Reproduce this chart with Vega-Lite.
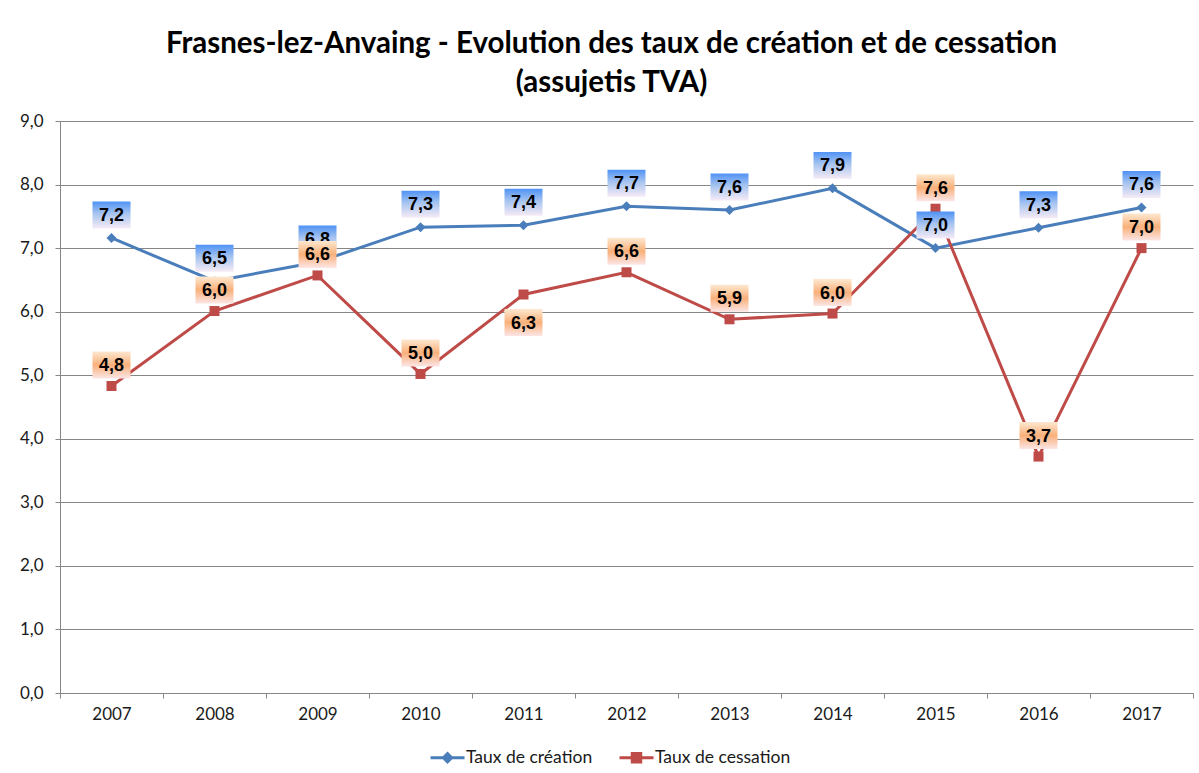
{
  "$schema": "https://vega.github.io/schema/vega-lite/v6.json",
  "width": 1133,
  "height": 572,
  "padding": {"left": 19, "right": 7, "top": 28, "bottom": 5},
  "background": "white",
  "title": {
    "text": ["Frasnes-lez-Anvaing - Evolution des taux de création et de cessation", "(assujetis TVA)"],
    "font": "Lato",
    "fontSize": 29.5,
    "fontWeight": "bold",
    "lineHeight": 39,
    "color": "#000000",
    "anchor": "middle",
    "offset": 14,
    "dx": -15
  },
  "data": {
    "values": [
      {"year": "2007", "series": "Taux de création", "value": 7.16},
      {"year": "2008", "series": "Taux de création", "value": 6.48},
      {"year": "2009", "series": "Taux de création", "value": 6.78},
      {"year": "2010", "series": "Taux de création", "value": 7.33},
      {"year": "2011", "series": "Taux de création", "value": 7.36},
      {"year": "2012", "series": "Taux de création", "value": 7.66},
      {"year": "2013", "series": "Taux de création", "value": 7.6},
      {"year": "2014", "series": "Taux de création", "value": 7.94},
      {"year": "2015", "series": "Taux de création", "value": 7.0},
      {"year": "2016", "series": "Taux de création", "value": 7.32},
      {"year": "2017", "series": "Taux de création", "value": 7.64},
      {"year": "2007", "series": "Taux de cessation", "value": 4.83},
      {"year": "2008", "series": "Taux de cessation", "value": 6.01},
      {"year": "2009", "series": "Taux de cessation", "value": 6.57},
      {"year": "2010", "series": "Taux de cessation", "value": 5.02},
      {"year": "2011", "series": "Taux de cessation", "value": 6.27},
      {"year": "2012", "series": "Taux de cessation", "value": 6.62},
      {"year": "2013", "series": "Taux de cessation", "value": 5.88},
      {"year": "2014", "series": "Taux de cessation", "value": 5.97},
      {"year": "2015", "series": "Taux de cessation", "value": 7.62},
      {"year": "2016", "series": "Taux de cessation", "value": 3.72},
      {"year": "2017", "series": "Taux de cessation", "value": 7.0}
    ]
  },
  "encoding": {
    "x": {
      "field": "year",
      "type": "ordinal",
      "scale": {"type": "band", "paddingInner": 0, "paddingOuter": 0},
      "axis": {
        "title": null,
        "labelAngle": 0,
        "tickBand": "extent",
        "tickSize": 5,
        "labelPadding": 8,
        "grid": false,
        "domainColor": "#868686",
        "tickColor": "#868686",
        "labelFont": "Lato",
        "labelFontSize": 17,
        "labelColor": "#1a1a1a"
      }
    },
    "y": {
      "field": "value",
      "type": "quantitative",
      "scale": {"domain": [0, 9], "nice": false, "zero": true},
      "axis": {
        "title": null,
        "values": [0, 1, 2, 3, 4, 5, 6, 7, 8, 9],
        "format": ".1f",
        "grid": true,
        "gridColor": "#868686",
        "gridWidth": 1,
        "domainColor": "#868686",
        "tickColor": "#868686",
        "tickSize": 5,
        "labelPadding": 12,
        "labelFont": "Lato",
        "labelFontSize": 17,
        "labelColor": "#1a1a1a",
        "minExtent": 40,
        "maxExtent": 40
      }
    }
  },
  "layer": [
    {
      "mark": {"type": "line", "strokeWidth": 3},
      "encoding": {
        "color": {
          "field": "series",
          "type": "nominal",
          "scale": {"domain": ["Taux de création", "Taux de cessation"], "range": ["#4a7ebb", "#be4b48"]},
          "legend": {
            "title": null,
            "orient": "none",
            "legendX": 369,
            "legendY": 618,
            "direction": "horizontal",
            "symbolType": "M-1,0H1M0,-0.24L0.24,0L0,0.24L-0.24,0Z",
            "symbolSize": 1156,
            "symbolStrokeWidth": 3,
            "labelFont": "Lato",
            "labelFontSize": 17.5,
            "labelColor": "#1a1a1a",
            "labelOffset": 0,
            "columnPadding": 20,
            "encoding": {
              "symbols": {
                "shape": {"value": {"expr": "datum.value === 'Taux de cessation' ? 'M-1,0H1M-0.25,-0.25H0.25V0.25H-0.25Z' : 'M-1,0H1M0,-0.24L0.24,0L0,0.24L-0.24,0Z'"}},
                "fill": {"value": {"expr": "datum.value === 'Taux de cessation' ? '#be4b48' : '#4a7ebb'"}}
              }
            }
          }
        }
      }
    },
    {
      "transform": [{"filter": "datum.series === 'Taux de création'"}],
      "mark": {"type": "point", "shape": "diamond", "filled": true, "size": 100, "color": "#4a7ebb", "opacity": 1}
    },
    {
      "transform": [{"filter": "datum.series === 'Taux de cessation'"}],
      "mark": {"type": "point", "shape": "square", "filled": true, "size": 100, "color": "#be4b48", "opacity": 1}
    },
    {
      "transform": [{"filter": "datum.series === 'Taux de création'"}],
      "mark": {
        "type": "point",
        "shape": "M-1,-0.71H1V0.71H-1Z",
        "size": 1444,
        "filled": true,
        "opacity": 1,
        "strokeWidth": 0,
        "yOffset": -23,
        "fill": {"gradient": "linear", "x1": 0, "y1": 0, "x2": 0, "y2": 1, "stops": [{"offset": 0, "color": "#4f92f5"}, {"offset": 0.45, "color": "#a6c4f0"}, {"offset": 1, "color": "#f6ebf6"}]}
      }
    },
    {
      "transform": [{"filter": "datum.series === 'Taux de création'"}],
      "mark": {"type": "text", "font": "Liberation Sans", "fontWeight": "bold", "fontSize": 18, "color": "#000000", "baseline": "middle", "yOffset": -22},
      "encoding": {"text": {"field": "value", "type": "quantitative", "format": ".1f"}}
    },
    {
      "transform": [{"filter": "datum.series === 'Taux de cessation'"}],
      "mark": {
        "type": "point",
        "shape": "M-1,-0.71H1V0.71H-1Z",
        "size": 1444,
        "filled": true,
        "opacity": 1,
        "strokeWidth": 0,
        "yOffset": {"expr": "datum.year === '2011' ? 28 : -21"},
        "fill": {"gradient": "linear", "x1": 0, "y1": 0, "x2": 0, "y2": 1, "stops": [{"offset": 0, "color": "#fde8d0"}, {"offset": 0.5, "color": "#f9b07a"}, {"offset": 1, "color": "#fce6e6"}]}
      }
    },
    {
      "transform": [{"filter": "datum.series === 'Taux de cessation'"}],
      "mark": {"type": "text", "font": "Liberation Sans", "fontWeight": "bold", "fontSize": 18, "color": "#000000", "baseline": "middle", "yOffset": {"expr": "datum.year === '2011' ? 29 : -20"}},
      "encoding": {"text": {"field": "value", "type": "quantitative", "format": ".1f"}}
    }
  ],
  "config": {
    "view": {"stroke": null},
    "locale": {"number": {"decimal": ",", "thousands": ".", "grouping": [3], "currency": ["", " €"]}}
  }
}
